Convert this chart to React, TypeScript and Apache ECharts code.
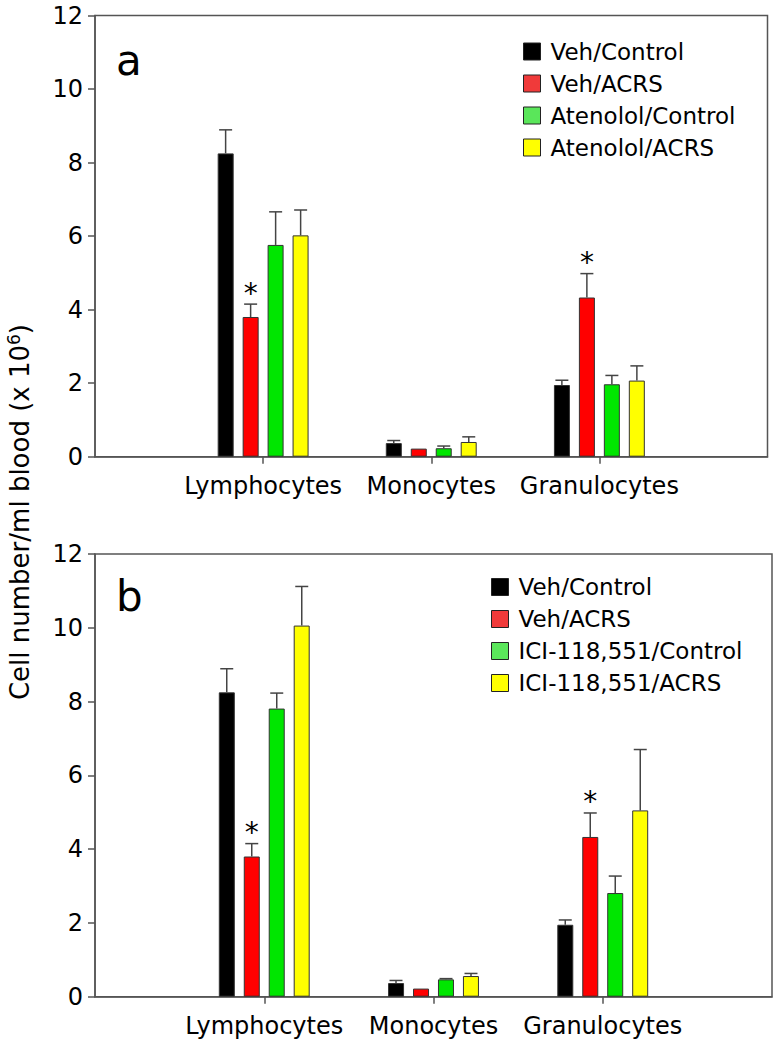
import React, { useEffect, useRef } from "react";
import * as echarts from "echarts";

const categories = ["", "Lymphocytes", "Monocytes", "Granulocytes", ""];

const namesA = ["Veh/Control", "Veh/ACRS", "Atenolol/Control", "Atenolol/ACRS"];
const namesB = ["Veh/Control", "Veh/ACRS", "ICI-118,551/Control", "ICI-118,551/ACRS"];

// means (x 10^6 cells/ml) for Lymphocytes, Monocytes, Granulocytes
const vehControl = [8.25, 0.37, 1.95];
const vehControlErr = [0.64, 0.07, 0.13];
const vehAcrs = [3.8, 0.22, 4.33];
const vehAcrsErr = [0.35, 0, 0.65];
const atenololControl = [5.76, 0.23, 1.97];
const atenololControlErr = [0.9, 0.06, 0.24];
const atenololAcrs = [6.02, 0.4, 2.07];
const atenololAcrsErr = [0.69, 0.14, 0.4];
const iciControl = [7.81, 0.47, 2.81];
const iciControlErr = [0.42, 0.02, 0.46];
const iciAcrs = [10.06, 0.56, 5.05];
const iciAcrsErr = [1.06, 0.07, 1.65];
const vehAcrsStars = [1, 0, 1];
const noStars = [0, 0, 0];

const barColors = ["#000000", "#ff0000", "#00e600", "#ffff00"];
const legendColors = ["#000000", "#f03a3a", "#5ae65a", "#ffff00"];

const FONT = "'DejaVu Sans', 'Liberation Sans', sans-serif";
const AXIS_COLOR = "#555555";
const BAR_W = 16;
const PITCH = 25;

function buildPanel(
  g: number,
  names: string[],
  means: number[][],
  errs: number[][],
  stars: number[][]
) {
  const series: any[] = [];
  names.forEach((name, k) => {
    series.push({
      type: "bar",
      name,
      xAxisIndex: g,
      yAxisIndex: g,
      barWidth: BAR_W,
      barGap: "56%",
      itemStyle: { color: barColors[k], borderColor: "#333333", borderWidth: 1 },
      data: ["-", ...means[k], "-"],
    });
  });
  const errData: any[] = [];
  names.forEach((_, k) => {
    means[k].forEach((m, i) => {
      errData.push([i + 1, m, errs[k][i], k, stars[k][i]]);
    });
  });
  series.push({
    type: "custom",
    name: "err" + g,
    xAxisIndex: g,
    yAxisIndex: g,
    encode: { x: 0, y: 1 },
    data: errData,
    z: 3,
    renderItem: (params: any, api: any) => {
      const cat = api.value(0);
      const mean = api.value(1);
      const err = api.value(2);
      const k = api.value(3);
      const star = api.value(4);
      const base = api.coord([cat, mean]);
      const top = api.coord([cat, mean + err]);
      const cx = base[0] + (k - 1.5) * PITCH;
      const children: any[] = [];
      const ls = { stroke: "#444444", lineWidth: 1.5 };
      if (err > 0) {
        children.push({ type: "line", shape: { x1: cx, y1: base[1], x2: cx, y2: top[1] }, style: ls });
        children.push({ type: "line", shape: { x1: cx - 6.5, y1: top[1], x2: cx + 6.5, y2: top[1] }, style: ls });
      }
      if (star) {
        children.push({
          type: "text",
          x: cx,
          y: top[1] - 11,
          style: { text: "*", fontSize: 28, fontFamily: FONT, fill: "#000", align: "center", verticalAlign: "middle" },
        });
      }
      return { type: "group", children };
    },
  });
  return series;
}

function makeLegend(names: string[], left: number, top: number) {
  return {
    orient: "vertical",
    left,
    top,
    padding: 0,
    itemWidth: 17,
    itemHeight: 17,
    itemGap: 9,
    icon: "rect",
    selectedMode: false,
    formatter: "{t|{name}}",
    textStyle: {
      fontFamily: FONT,
      fontSize: 23,
      lineHeight: 23,
      color: "#000",
      rich: { t: { fontFamily: FONT, fontSize: 23, lineHeight: 23, color: "#000", padding: [0, 0, 0, 5] } },
    },
    data: names.map((n, i) => ({
      name: n,
      itemStyle: { color: legendColors[i], borderColor: "#222", borderWidth: 1 },
    })),
  };
}

function xAxisFor(g: number) {
  return {
    type: "category",
    gridIndex: g,
    data: categories,
    boundaryGap: false,
    axisLine: { show: true, lineStyle: { color: AXIS_COLOR, width: 1.5 } },
    axisTick: {
      show: true,
      length: 7,
      interval: (idx: number) => idx >= 1 && idx <= 3,
      lineStyle: { color: AXIS_COLOR, width: 1.5 },
    },
    axisLabel: { interval: 0, fontFamily: FONT, fontSize: 24, lineHeight: 24, color: "#000", margin: 17 },
    splitLine: { show: false },
  };
}

function yAxisFor(g: number) {
  return {
    type: "value",
    gridIndex: g,
    min: 0,
    max: 12,
    interval: 2,
    axisLine: { show: true, lineStyle: { color: AXIS_COLOR, width: 1.5 } },
    axisTick: { show: true, length: 7, lineStyle: { color: AXIS_COLOR, width: 1.5 } },
    axisLabel: { fontFamily: FONT, fontSize: 24, color: "#000", margin: 12 },
    splitLine: { show: false },
  };
}

export default function App() {
  const ref = useRef<HTMLDivElement>(null);
  useEffect(() => {
    if (!ref.current) return;
    const chart = echarts.init(ref.current, undefined, { renderer: "svg" });
    const seriesA = buildPanel(
      0,
      namesA,
      [vehControl, vehAcrs, atenololControl, atenololAcrs],
      [vehControlErr, vehAcrsErr, atenololControlErr, atenololAcrsErr],
      [noStars, vehAcrsStars, noStars, noStars]
    );
    const seriesB = buildPanel(
      1,
      namesB,
      [vehControl, vehAcrs, iciControl, iciAcrs],
      [vehControlErr, vehAcrsErr, iciControlErr, iciAcrsErr],
      [noStars, vehAcrsStars, noStars, noStars]
    );
    chart.setOption({
      animation: false,
      backgroundColor: "#ffffff",
      grid: [
        { left: 95, top: 15.5, width: 672.5, height: 441.2, show: true, borderColor: AXIS_COLOR, borderWidth: 1.5, backgroundColor: "transparent" },
        { left: 95, top: 554, width: 677, height: 442.7, show: true, borderColor: AXIS_COLOR, borderWidth: 1.5, backgroundColor: "transparent" },
      ],
      xAxis: [xAxisFor(0), xAxisFor(1)],
      yAxis: [yAxisFor(0), yAxisFor(1)],
      legend: [makeLegend(namesA, 523, 40), makeLegend(namesB, 491, 575.5)],
      series: [...seriesA, ...seriesB],
      graphic: [
        {
          type: "text",
          x: 20,
          y: 512,
          rotation: Math.PI / 2,
          style: {
            text: "{m|Cell number/ml blood (x 10}{s|6}{m|)}",
            align: "center",
            verticalAlign: "middle",
            rich: {
              m: { fontFamily: FONT, fontSize: 26, lineHeight: 30, fill: "#000" },
              s: { fontFamily: FONT, fontSize: 17, lineHeight: 30, verticalAlign: "top", fill: "#000" },
            },
          },
        },
        { type: "text", x: 116, y: 60, style: { text: "a", fontFamily: FONT, fontSize: 42, fill: "#000", verticalAlign: "middle" } },
        { type: "text", x: 116, y: 596, style: { text: "b", fontFamily: FONT, fontSize: 42, fill: "#000", verticalAlign: "middle" } },
      ],
    });
    return () => chart.dispose();
  }, []);
  return (
    <div
      ref={ref}
      style={{ position: "absolute", left: 0, top: 0, width: 776, height: 1042, background: "#fff" }}
    />
  );
}
